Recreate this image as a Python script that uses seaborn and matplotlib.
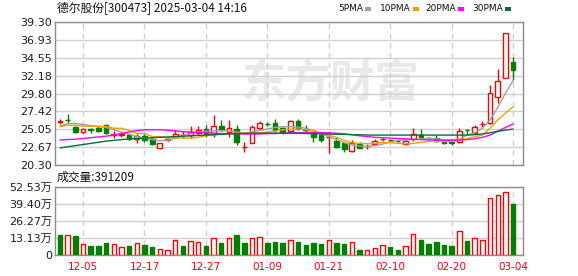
import numpy as np
import pandas as pd
import matplotlib
matplotlib.use("Agg")
import matplotlib.pyplot as plt
from matplotlib.patches import Rectangle
import seaborn as sns

# ---------------- data ----------------
dates = ["12-02", "12-03", "12-04", "12-05", "12-06", "12-09", "12-10", "12-11", "12-12", "12-13",
         "12-16", "12-17", "12-18", "12-19", "12-20", "12-23", "12-24", "12-25", "12-26", "12-27",
         "12-30", "12-31", "01-02", "01-03", "01-06", "01-07", "01-08", "01-09", "01-10", "01-13",
         "01-14", "01-15", "01-16", "01-17", "01-20", "01-21", "01-22", "01-23", "01-24", "01-27",
         "02-05", "02-06", "02-07", "02-10", "02-11", "02-12", "02-13", "02-14", "02-17", "02-18",
         "02-19", "02-20", "02-21", "02-24", "02-25", "02-26", "02-27", "02-28", "03-03", "03-04"]

opens = [26.05, 26.35, 25.41, 24.66, 25.10, 25.20, 25.63, 24.35, 24.35, 24.31,
         23.74, 24.18, 23.74, 22.55, 23.70, 23.99, 24.28, 24.31, 24.62, 25.10,
         24.40, 25.54, 24.67, 25.10, 22.74, 23.29, 25.20, 25.76, 25.85, 25.20,
         24.84, 26.16, 25.10, 24.44, 24.31, 24.05, 23.52, 23.21, 22.23, 23.08,
         22.87, 23.12, 23.76, 23.68, 23.55, 23.12, 23.74, 24.31, 23.90, 23.87,
         23.56, 23.33, 23.39, 25.00, 24.53, 25.74, 25.85, 29.38, 31.81, 34.01]
highs = [26.39, 27.05, 25.54, 25.20, 25.27, 25.45, 25.70, 24.84, 24.70, 24.50,
         24.40, 24.40, 23.90, 23.30, 23.90, 24.97, 24.84, 25.50, 25.50, 25.60,
         26.96, 26.30, 26.30, 25.63, 23.34, 25.60, 26.20, 25.98, 26.40, 25.40,
         26.30, 26.40, 25.63, 24.75, 24.53, 24.54, 24.10, 23.43, 23.65, 23.43,
         23.12, 23.74, 23.87, 23.78, 23.70, 23.74, 25.27, 25.10, 24.10, 24.30,
         23.74, 23.43, 25.27, 25.06, 25.60, 26.20, 30.93, 33.00, 37.77, 34.59]
lows = [25.77, 25.86, 24.60, 24.60, 24.60, 24.70, 24.50, 23.95, 24.05, 23.70,
        23.21, 23.40, 23.00, 22.50, 23.50, 23.90, 23.90, 23.90, 24.30, 24.10,
        24.08, 24.90, 24.10, 23.00, 22.10, 23.20, 25.00, 25.50, 24.75, 24.50,
        24.75, 24.97, 24.75, 23.40, 23.40, 21.90, 22.55, 22.10, 22.10, 22.55,
        22.45, 22.99, 23.50, 23.43, 23.35, 22.95, 23.56, 23.74, 23.70, 23.40,
        23.12, 22.99, 23.30, 24.31, 24.40, 25.32, 25.77, 28.50, 31.81, 31.59]
closes = [26.10, 26.25, 24.75, 25.10, 25.02, 24.84, 24.60, 24.40, 24.40, 23.74,
          24.18, 23.65, 23.08, 23.21, 23.74, 24.44, 24.31, 24.75, 24.97, 24.40,
          25.54, 24.97, 25.27, 23.34, 22.78, 25.32, 25.94, 25.70, 24.97, 24.67,
          26.16, 25.10, 25.02, 24.08, 23.65, 24.10, 22.76, 22.46, 23.21, 22.63,
          22.90, 23.56, 23.78, 23.62, 23.50, 23.47, 24.40, 24.08, 23.85, 23.56,
          23.21, 23.28, 24.84, 24.94, 25.32, 25.77, 29.83, 31.45, 37.77, 32.91]

ma5 = [25.50, 25.80, 25.85, 25.70, 25.55, 25.45, 25.30, 25.00, 24.70, 24.40,
       24.10, 23.90, 23.70, 23.55, 23.60, 23.90, 24.20, 24.50, 24.70, 24.80,
       24.85, 24.90, 24.85, 24.70, 24.60, 24.70, 24.90, 25.10, 25.30, 25.40,
       25.40, 25.35, 25.20, 24.90, 24.50, 24.10, 23.70, 23.30, 23.00, 22.85,
       22.80, 22.90, 23.10, 23.40, 23.60, 23.65, 23.70, 23.80, 23.85, 23.80,
       23.70, 23.70, 23.75, 24.30, 24.60, 25.20, 26.30, 27.97, 29.83, 31.50]
ma10 = [25.40, 25.60, 25.60, 25.50, 25.45, 25.45, 25.45, 25.20, 25.20, 24.90,
        24.50, 24.50, 24.10, 24.10, 23.95, 23.95, 23.90, 23.90, 24.00, 24.20,
        24.35, 24.45, 24.50, 24.55, 24.55, 24.55, 24.55, 24.70, 24.85, 25.00,
        25.10, 25.10, 25.00, 24.90, 24.60, 24.30, 24.00, 23.60, 23.30, 23.20,
        23.15, 23.20, 23.30, 23.30, 23.20, 23.15, 23.20, 23.35, 23.45, 23.45,
        23.45, 23.50, 23.60, 23.85, 24.08, 24.30, 25.20, 26.30, 27.18, 28.05]
ma20 = [23.65, 23.70, 23.75, 23.85, 23.95, 24.05, 24.15, 24.30, 24.50, 24.70,
        24.90, 25.00, 25.00, 25.00, 24.95, 24.85, 24.75, 24.70, 24.65, 24.60,
        24.55, 24.50, 24.50, 24.50, 24.45, 24.45, 24.45, 24.50, 24.50, 24.55,
        24.60, 24.60, 24.65, 24.65, 24.60, 24.60, 24.55, 24.45, 24.35, 24.20,
        24.10, 24.00, 23.95, 23.90, 23.85, 23.80, 23.75, 23.70, 23.65, 23.65,
        23.60, 23.60, 23.65, 23.70, 23.80, 24.00, 24.30, 24.80, 25.30, 25.77]
ma30 = [22.60, 22.75, 22.90, 23.05, 23.20, 23.35, 23.50, 23.60, 23.70, 23.78,
        23.85, 23.90, 23.95, 24.00, 24.05, 24.10, 24.15, 24.20, 24.25, 24.30,
        24.35, 24.40, 24.45, 24.50, 24.50, 24.55, 24.55, 24.55, 24.55, 24.55,
        24.55, 24.55, 24.50, 24.50, 24.45, 24.45, 24.40, 24.40, 24.35, 24.35,
        24.30, 24.30, 24.30, 24.30, 24.30, 24.30, 24.30, 24.30, 24.30, 24.30,
        24.30, 24.30, 24.30, 24.30, 24.35, 24.45, 24.60, 24.80, 24.95, 25.10]

volume_wan = [15.2, 15.0, 14.5, 8.4, 6.9, 6.9, 9.1, 8.4, 6.1, 6.9,
              9.1, 7.6, 6.1, 4.6, 3.8, 11.9, 6.9, 10.7, 9.9, 6.9,
              13.4, 9.1, 12.7, 15.2, 9.1, 12.7, 14.2, 9.1, 9.9, 9.1,
              11.4, 9.9, 7.6, 9.1, 8.4, 11.4, 9.1, 8.4, 9.9, 3.8,
              3.8, 5.3, 7.4, 6.1, 3.8, 6.9, 16.0, 11.4, 8.4, 9.9,
              7.6, 6.9, 18.8, 10.7, 12.7, 11.9, 43.9, 46.2, 48.5, 39.1209]
volume_up = [0, 1, 0, 1, 0, 0, 0, 1, 1, 0,
             1, 0, 0, 1, 1, 1, 0, 1, 1, 0,
             1, 0, 1, 0, 0, 1, 1, 0, 0, 0,
             1, 0, 0, 0, 0, 1, 0, 0, 1, 0,
             1, 1, 1, 0, 0, 1, 1, 0, 0, 0,
             0, 0, 1, 0, 1, 1, 1, 1, 1, 0]

tick_labels = ["12-05", "12-17", "12-27", "01-09", "01-21", "02-10", "02-20", "03-04"]
price_ticks = ["20.30", "22.67", "25.05", "27.42", "29.80", "32.18", "34.55", "36.93", "39.30"]
vol_ticks = ["0", "13.13万", "26.27万", "39.40万", "52.53万"]
title = "德尔股份[300473] 2025-03-04 14:16"
vol_title = "成交量:391209"
ma_names = ["5PMA", "10PMA", "20PMA", "30PMA"]

# ---------------- style ----------------
RED = "#ff0000"
GREEN = "#008000"
MA_COLORS = ["#a0a0a0", "#f0a000", "#ff00ff", "#006f36"]
FRAME = "#8c8c8c"
GRID = "#d0d0d0"

sns.set_style("white")
plt.rcParams["font.family"] = ["DejaVu Sans", "Noto Sans CJK SC"]
CJK = ["Noto Sans CJK SC", "DejaVu Sans"]

df = pd.DataFrame({"date": dates, "open": opens, "high": highs, "low": lows, "close": closes,
                   "ma5": ma5, "ma10": ma10, "ma20": ma20, "ma30": ma30,
                   "vol": volume_wan, "vup": volume_up})
df["i"] = np.arange(len(df))
up = df["close"] >= df["open"]

W, H = 578, 276
fig = plt.figure(figsize=(W / 100, H / 100), dpi=100)
fig.patch.set_facecolor("white")
left, right = 55, 522.7
p_top, p_bot = 21.7, 165.3
v_top, v_bot = 186.7, 255.0
ax = fig.add_axes([left / W, 1 - p_bot / H, (right - left) / W, (p_bot - p_top) / H])
axv = fig.add_axes([left / W, 1 - v_bot / H, (right - left) / W, (v_bot - v_top) / H])

xlim = (-0.65, len(df) - 1 + 1.25)
tick_pos = [dates.index(t) for t in tick_labels]

for a in (ax, axv):
    a.set_xlim(*xlim)
    a.set_axisbelow(True)
    a.set_xticks(tick_pos)
    a.grid(axis="y", color=GRID, lw=1, ls="-")
    a.grid(axis="x", color=GRID, lw=1, ls=(0, (4, 3)))
    for s in a.spines.values():
        s.set_color(FRAME)
        s.set_linewidth(1)
        s.set_visible(True)

# watermark
ax.text(0.59, 0.56, "东方财富", transform=ax.transAxes, ha="center", va="center",
        fontsize=32, fontweight="bold", color="#e9e9e9", family=CJK, zorder=0, style="italic")

# candles
ccol = [RED if u else GREEN for u in up]
face = ["white" if u else GREEN for u in up]
ax.vlines(df["i"], df["low"], df["high"], colors=ccol, lw=1, zorder=2)
body_h = np.maximum((df["close"] - df["open"]).abs(), 0.02)
ax.bar(df["i"], body_h, bottom=np.minimum(df["open"], df["close"]), width=0.62,
       color=face, edgecolor=ccol, linewidth=1, zorder=3)

# moving averages
for name, col in zip(["ma5", "ma10", "ma20", "ma30"], MA_COLORS):
    sns.lineplot(data=df, x="i", y=name, ax=ax, color=col, lw=1, legend=False, zorder=4)

pmin, pmax = float(price_ticks[0]), float(price_ticks[-1])
ax.set_ylim(pmin, pmax)
ax.set_yticks(np.linspace(pmin, pmax, len(price_ticks)))
ax.set_yticklabels(price_ticks)
ax.set_xticklabels([])
ax.set_xlabel("")
ax.set_ylabel("")
ax.tick_params(axis="y", length=0, pad=2, labelsize=8, labelcolor="#1c1c2e")
ax.tick_params(axis="x", length=0)

# volume
vcol = [RED if u else GREEN for u in df["vup"]]
vface = ["white" if u else GREEN for u in df["vup"]]
axv.bar(df["i"], df["vol"], width=0.58, color=vface, edgecolor=vcol, linewidth=1, zorder=3)
vmax = float(vol_ticks[-1].replace("万", ""))
axv.set_ylim(0, vmax)
axv.set_yticks(np.linspace(0, vmax, len(vol_ticks)))
axv.set_yticklabels(vol_ticks)
axv.set_xticklabels(tick_labels)
axv.tick_params(axis="y", length=0, pad=2, labelsize=8, labelcolor="#1c1c2e")
axv.tick_params(axis="x", length=0, pad=5, labelsize=7.5, labelcolor=RED)
for lab in axv.get_yticklabels():
    lab.set_family(["DejaVu Sans", "Noto Sans CJK SC"])

# titles and legend
fig.text(57 / W, 1 - 8.5 / H, title, ha="left", va="center", fontsize=8.5, family=CJK, color="#111111")
fig.text(57 / W, 1 - 177 / H, vol_title, ha="left", va="center", fontsize=8.5, family=CJK, color="#111111")
sq_x = [365, 413, 458, 505]
for name, col, sx in zip(ma_names, MA_COLORS, sq_x):
    fig.text((sx - 2) / W, 1 - 8.5 / H, name, ha="right", va="center", fontsize=6.5, color="#111111")
    fig.patches.append(Rectangle((sx / W, 1 - 10.5 / H), 5.5 / W, 4 / H, transform=fig.transFigure,
                                 facecolor=col, edgecolor="none"))

fig.savefig("out.png", dpi=100, facecolor="white")
